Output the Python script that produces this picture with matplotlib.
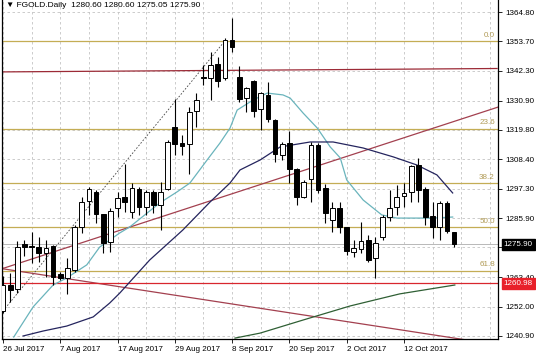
import matplotlib
matplotlib.use('Agg')
import matplotlib.pyplot as plt
import numpy as np

plt.rcParams['font.family'] = ['Liberation Sans', 'DejaVu Sans']

# daily candles, 26 Jul 2017 .. 23 Oct 2017
opens = [1250.5, 1260.4, 1258.9, 1276.1, 1275.4, 1275.0, 1272.6, 1275.3, 1264.6, 1263.1,
         1266.1, 1282.6, 1292.5, 1296.0, 1287.6, 1276.8, 1289.8, 1294.0, 1288.3, 1297.1,
         1290.2, 1296.0, 1291.0, 1297.1, 1320.8, 1314.7, 1314.3, 1326.9, 1340.1, 1339.6,
         1344.9, 1339.6, 1354.1, 1339.9, 1331.9, 1338.4, 1327.7, 1333.1, 1323.5, 1310.1,
         1314.7, 1304.8, 1294.1, 1300.9, 1313.9, 1297.5, 1285.3, 1289.8, 1282.6, 1273.0,
         1274.2, 1277.6, 1270.7, 1278.8, 1286.4, 1290.2, 1294.4, 1296.0, 1306.3, 1297.1,
         1286.8, 1282.6, 1291.8, 1280.6]
highs = [1264.0, 1265.0, 1277.2, 1277.6, 1280.7, 1278.8, 1277.6, 1275.7, 1265.5, 1270.7,
         1283.3, 1294.1, 1298.0, 1296.7, 1287.6, 1289.8, 1296.0, 1306.7, 1299.4, 1297.9,
         1296.7, 1296.7, 1299.8, 1315.9, 1331.5, 1317.8, 1328.5, 1333.8, 1344.5, 1349.5,
         1347.6, 1354.9, 1362.5, 1344.1, 1336.1, 1338.8, 1334.2, 1338.0, 1323.8, 1315.1,
         1319.3, 1305.1, 1300.6, 1315.1, 1314.6, 1299.0, 1292.1, 1292.1, 1282.6, 1277.6,
         1284.5, 1279.5, 1278.8, 1287.2, 1296.7, 1298.6, 1299.4, 1306.3, 1308.9, 1297.9,
         1292.1, 1292.5, 1292.5, 1280.6]
lows = [1249.6, 1253.9, 1257.3, 1271.5, 1268.8, 1269.2, 1263.5, 1260.4, 1262.3, 1256.9,
        1265.4, 1280.3, 1287.2, 1284.1, 1272.6, 1273.0, 1286.4, 1288.3, 1286.0, 1287.2,
        1287.2, 1287.9, 1281.4, 1296.7, 1310.1, 1310.1, 1303.0, 1320.8, 1336.9, 1331.1,
        1336.1, 1338.8, 1349.5, 1330.4, 1326.6, 1324.6, 1319.7, 1322.7, 1307.4, 1308.2,
        1299.4, 1291.0, 1293.7, 1292.1, 1295.6, 1284.1, 1280.7, 1280.3, 1271.9, 1271.1,
        1272.6, 1269.2, 1263.1, 1277.6, 1284.9, 1287.2, 1290.2, 1292.1, 1292.1, 1283.3,
        1278.4, 1277.6, 1280.3, 1275.05]
closes = [1260.4, 1258.5, 1275.0, 1274.9, 1274.8, 1272.6, 1274.6, 1263.5, 1263.1, 1266.9,
          1282.6, 1292.1, 1297.1, 1287.6, 1276.5, 1288.7, 1293.7, 1292.1, 1297.5, 1290.2,
          1296.0, 1291.0, 1296.0, 1315.1, 1314.3, 1313.6, 1326.6, 1331.1, 1339.5, 1344.5,
          1338.4, 1354.1, 1351.4, 1331.5, 1335.7, 1327.0, 1333.8, 1323.9, 1310.5, 1314.3,
          1304.8, 1294.1, 1299.8, 1313.9, 1296.7, 1287.9, 1289.8, 1282.6, 1273.4, 1274.6,
          1277.2, 1270.0, 1276.5, 1286.4, 1289.8, 1294.0, 1295.6, 1305.9, 1296.7, 1286.4,
          1282.6, 1291.8, 1281.1, 1275.9]

# moving averages (bar index, price)
ma_fast_x = [1.5, 4.2, 7.0, 8.9, 11.7, 13.5, 16.3, 17.7, 21.9, 24.3, 26.1, 28.5, 30.3, 31.7,
             32.7, 34.9, 36.9, 39.1, 40.1, 41.9, 43.9, 45.7, 47.1, 48.0, 50.3, 52.9, 55.0,
             57.8, 60.1, 62.8]
ma_fast_y = [1240.5, 1252.0, 1260.4, 1263.1, 1268.1, 1274.9, 1280.3, 1282.6, 1291.8, 1296.0,
             1299.4, 1308.2, 1314.7, 1320.4, 1327.3, 1331.1, 1333.8, 1333.1, 1331.9, 1326.2,
             1320.4, 1313.2, 1309.0, 1300.6, 1292.9, 1287.2, 1286.0, 1286.0, 1286.0, 1286.4]
ma_mid_x = [2.8, 5.6, 8.9, 12.6, 14.9, 16.3, 20.5, 25.1, 28.9, 31.7, 33.1, 35.9, 38.7, 42.9,
            46.1, 50.3, 54.5, 57.8, 60.6, 62.8]
ma_mid_y = [1240.9, 1242.8, 1244.7, 1248.2, 1253.5, 1257.3, 1270.0, 1281.4, 1292.1, 1299.4,
            1304.4, 1308.2, 1313.2, 1315.1, 1315.1, 1312.8, 1309.4, 1306.3, 1302.5, 1295.6]
ma_slow_x = [32.4, 35.9, 41.9, 48.5, 55.4, 63.1]
ma_slow_y = [1240.1, 1242.0, 1247.0, 1252.4, 1257.0, 1260.4]

# drawn objects
fib_high, fib_low = 1353.8, 1211.6
fib_levels = [0.0, 23.6, 38.2, 50.0, 61.8]
fib_anchor_x = [0, 31]
fib_anchor_y = [1250.5, 1353.8]
resist_x, resist_y = [0, 69], [1341.9, 1343.2]
trend_up_x, trend_up_y = [-0.5, 69.2], [1266.3, 1328.5]
trend_dn_x, trend_dn_y = [-0.5, 69.2], [1266.8, 1237.5]
support_level = 1260.98
last_price = 1275.90

price_ticks = [1364.80, 1353.70, 1342.30, 1330.90, 1319.80, 1308.40, 1297.30,
               1285.90, 1274.80, 1263.40, 1252.00, 1240.90]
date_pos = [0, 8, 16, 24, 32, 40, 48, 56]
date_labels = ['26 Jul 2017', '7 Aug 2017', '17 Aug 2017', '29 Aug 2017',
               '8 Sep 2017', '20 Sep 2017', '2 Oct 2017', '12 Oct 2017']

FIB_COLOR = '#c4ad55'
MAROON = '#a3404f'

fig = plt.figure(figsize=(5.36, 3.57), dpi=100)
ax = fig.add_axes([2 / 536, 18 / 357, 496 / 536, 339 / 357])
ax.set_xlim(-0.14, 69.13)
ax.set_ylim(1239.75, 1369.4)

# grid
for p in price_ticks:
    ax.axhline(p, color='#c4c4c4', lw=0.6, ls=(0, (3, 3)), zorder=0)
for gx in range(0, 69, 4):
    ax.axvline(gx, color='#c4c4c4', lw=0.6, ls=(0, (3, 3)), zorder=0)

# fibonacci
for lv in fib_levels:
    p = fib_high - (fib_high - fib_low) * lv / 100
    ax.axhline(p, color=FIB_COLOR, lw=0.9, zorder=1)
    ax.text(68.7, p + 0.8, f'{lv:.1f}', color='#b09a55', fontsize=5.8,
            ha='right', va='bottom', zorder=2)
ax.plot(fib_anchor_x, fib_anchor_y, color='#444444', lw=0.6, ls=(0, (2, 2)), zorder=1)

# trendlines and levels
ax.plot(resist_x, resist_y, color='#9c2a36', lw=0.9, zorder=1)
ax.plot(trend_up_x, trend_up_y, color=MAROON, lw=0.9, zorder=1)
ax.plot(trend_dn_x, trend_dn_y, color=MAROON, lw=0.9, zorder=1)
ax.axhline(support_level, color='#d8262e', lw=0.9, zorder=1)
ax.axhline(last_price, color='#b8b8b8', lw=0.7, zorder=1)

# moving averages
ax.plot(ma_fast_x, ma_fast_y, color='#6ab4bc', lw=0.9, zorder=2)
ax.plot(ma_mid_x, ma_mid_y, color='#25255e', lw=0.9, zorder=2)
ax.plot(ma_slow_x, ma_slow_y, color='#2f5f34', lw=0.9, zorder=2)

# candles
idx = np.arange(len(opens))
o, h, l, c = map(np.array, (opens, highs, lows, closes))
ax.vlines(idx, l, h, color='black', lw=0.8, zorder=3)
up = c >= o
body_lo = np.minimum(o, c)
body_h = np.maximum(np.abs(c - o), 0.5)
ax.bar(idx[up], body_h[up], bottom=body_lo[up], width=0.66,
       color='white', edgecolor='black', lw=0.7, zorder=4)
ax.bar(idx[~up], body_h[~up], bottom=body_lo[~up], width=0.66,
       color='black', edgecolor='black', lw=0.7, zorder=4)

# axes styling
ax.yaxis.tick_right()
ax.set_yticks(price_ticks)
ax.set_yticklabels([f'{p:.2f}' for p in price_ticks], fontsize=5.8)
ax.tick_params(axis='y', length=3, width=0.6, pad=2)
ax.set_xticks(date_pos)
ax.set_xticklabels(date_labels, fontsize=5.8, ha='left')
ax.tick_params(axis='x', length=3, width=0.6, pad=2)
ax.spines['top'].set_visible(False)
for s in ('left', 'right', 'bottom'):
    ax.spines[s].set_linewidth(0.9)

# price boxes on the scale (cover the tick labels beneath, as in the terminal)
ax.annotate(f'{last_price:.2f}', xy=(1, last_price), xycoords=('axes fraction', 'data'),
            xytext=(4, 0), textcoords='offset points', fontsize=5.8, color='white',
            va='center', ha='left', zorder=6,
            bbox=dict(boxstyle='square,pad=0.25', fc='black', ec='black'))
ax.annotate(f'{support_level:.2f}', xy=(1, support_level), xycoords=('axes fraction', 'data'),
            xytext=(4, 0), textcoords='offset points', fontsize=5.8, color='white',
            va='center', ha='left', zorder=6,
            bbox=dict(boxstyle='square,pad=0.25', fc='#e8202a', ec='#e8202a'))

ax.text(0.008, 0.995, '▼ FGOLD.Daily  1280.60 1280.60 1275.05 1275.90',
        transform=ax.transAxes, fontsize=6, va='top', ha='left', color='black')

fig.savefig('out.png', dpi=100)
